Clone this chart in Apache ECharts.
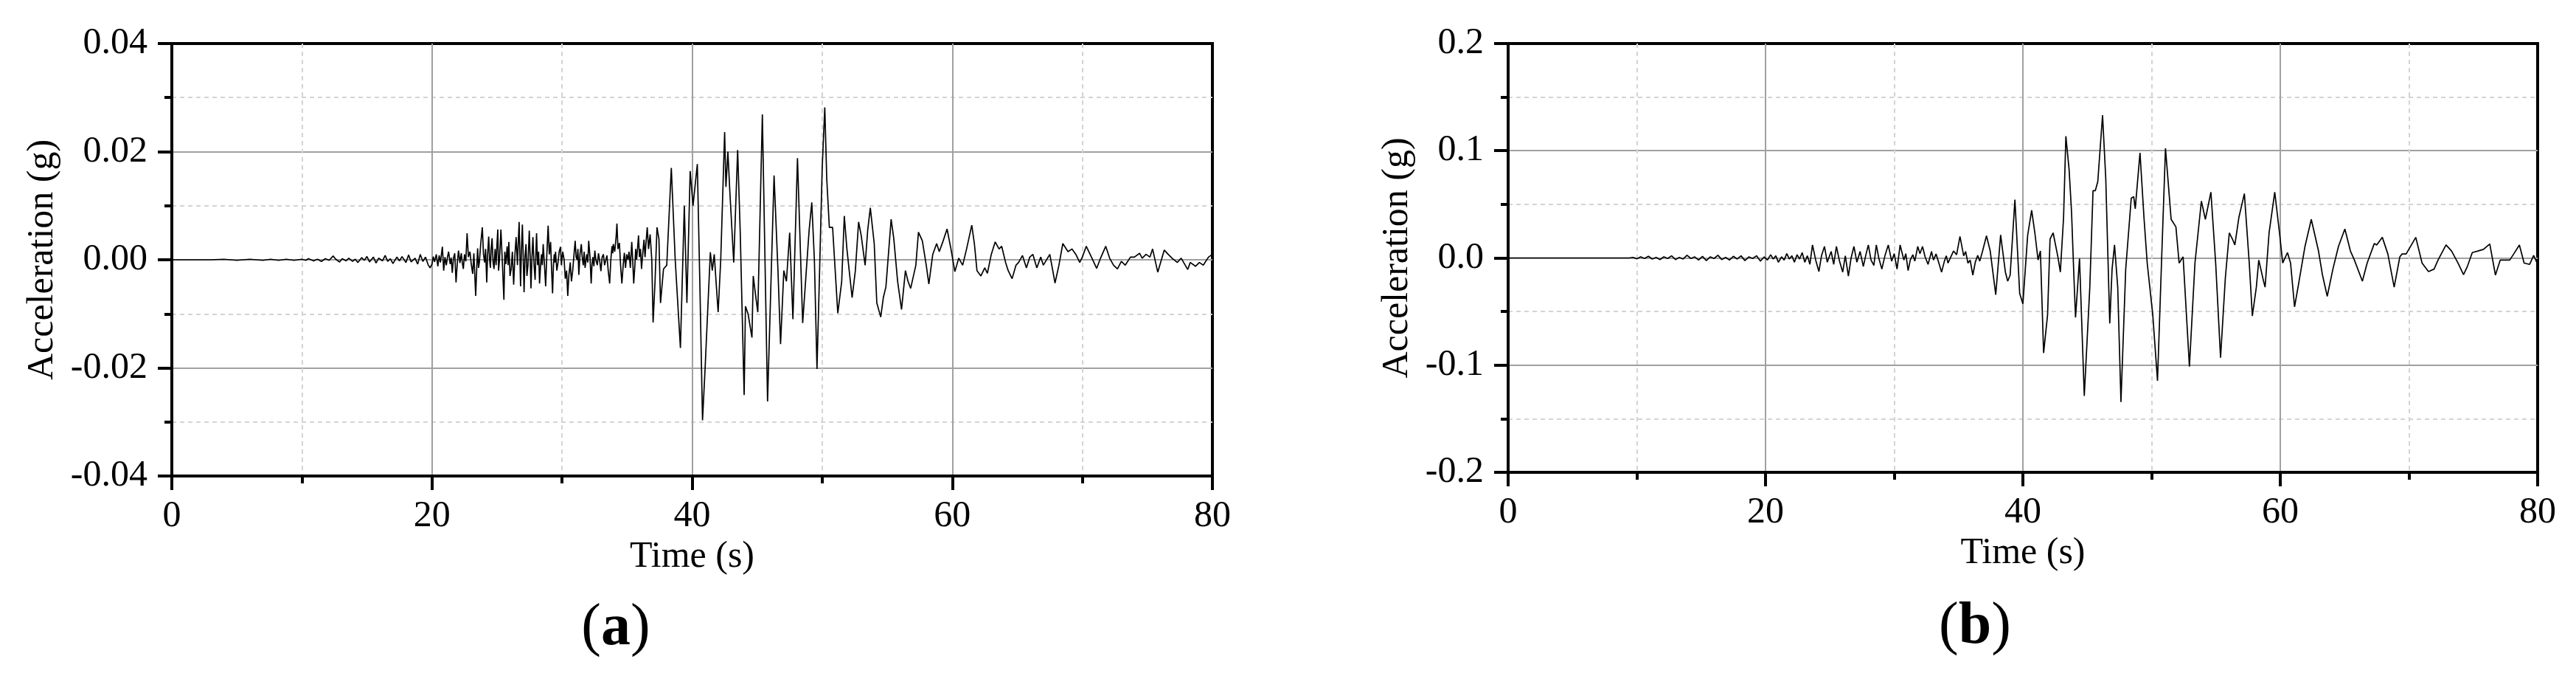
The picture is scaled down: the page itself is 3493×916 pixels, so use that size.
<!DOCTYPE html>
<html>
<head>
<meta charset="utf-8">
<script src="https://cdn.jsdelivr.net/npm/echarts@6/dist/echarts.min.js"></script>
<style>
html,body{margin:0;padding:0;background:#fff;}
#chart{width:3493px;height:916px;}
</style>
</head>
<body>
<div id="chart"></div>
<script>
// ---------- data ----------
const xTicks = [0, 20, 40, 60, 80];
const yTicksA = [-0.04, -0.02, 0.00, 0.02, 0.04];
const yTicksB = [-0.2, -0.1, 0.0, 0.1, 0.2];
const panelLabels = ['a', 'b'];
const xName = 'Time (s)';
const yName = 'Acceleration (g)';

// Panel (a): [time (s), acceleration (g)]
const seriesA = [
[0,0],[3,0],[4,0.0001],[5,-0.0001],[6,0.0001],[7,-0.0001],[7.6,0.0001],[8.2,-0.0001],[8.8,0.0001],[9.4,-0.0001],
[10,0.0001],[10.3,-0.0001],[10.5,0.0002],[10.9,-0.0002],[11.2,0.0001],[11.5,-0.0003],[11.8,0.0002],[12.1,-0.0001],
[12.4,0.0007],[12.6,0.0001],[12.9,-0.0004],[13.1,0.0002],[13.4,-0.0002],[13.6,0.0003],[13.9,-0.0003],[14.1,0.0001],
[14.3,-0.0005],[14.6,0.0004],[14.8,-0.0001],[15.0,0.0006],[15.2,-0.0004],[15.5,0.0005],[15.7,-0.0006],[15.9,0.0003],
[16.2,-0.0002],[16.4,0.0008],[16.6,-0.0003],[16.8,0.0002],[17.0,-0.0007],[17.3,0.0005],[17.5,-0.0002],[17.7,0.0006],
[18.0,-0.0005],[18.2,0.0009],[18.4,-0.0004],[18.7,0.0003],[18.9,-0.0008],[19.1,0.0010],[19.3,-0.0003],[19.5,0.0005],
[19.7,-0.0009],[19.86,-0.0015],
[20.0,-0.0008],[20.1,0.0006],[20.2,-0.0004],[20.33,0.001],[20.45,-0.0012],[20.55,0.0008],[20.65,-0.0005],[20.8,0.0024],
[20.9,-0.002],[21.0,0.0005],[21.1,-0.001],[21.2,0.0006],[21.28,0.0015],[21.4,-0.0008],[21.48,0.0004],[21.56,-0.0024],
[21.65,0.0003],[21.75,0.0012],[21.85,-0.0042],[21.95,-0.0005],[22.04,0.0017],[22.15,-0.0006],[22.25,0.0012],[22.33,-0.0005],
[22.41,-0.0017],[22.5,0.001],[22.6,-0.0003],[22.7,0.0049],[22.8,0.0005],[22.92,0.0015],[23.02,-0.0008],[23.13,-0.0026],
[23.22,0.0012],[23.36,-0.0067],[23.45,-0.001],[23.51,0.0021],[23.58,-0.0015],[23.64,-0.0005],[23.75,0.003],[23.87,0.006],
[23.96,0.001],[24.05,-0.0005],[24.12,0.002],[24.21,-0.0042],[24.28,0.001],[24.36,0.0043],[24.43,0.0],[24.49,-0.0015],
[24.55,0.002],[24.62,0.004],[24.7,-0.0005],[24.77,-0.0017],[24.85,0.002],[24.93,-0.001],[25.0,0.003],[25.06,0.0056],
[25.12,-0.002],[25.19,0.0],[25.25,0.003],[25.3,0.0056],[25.42,-0.001],[25.53,-0.0074],[25.6,0.0015],[25.68,-0.0008],
[25.78,0.0025],[25.85,-0.001],[25.91,0.0033],[26.0,-0.003],[26.09,-0.0017],[26.18,0.0015],[26.28,-0.0046],[26.38,0.001],
[26.47,0.0042],[26.57,-0.001],[26.63,0.003],[26.7,0.007],[26.81,-0.0049],[26.88,0.002],[26.95,0.0065],[27.02,0.0],
[27.08,-0.006],[27.15,0.0005],[27.23,0.0029],[27.3,-0.003],[27.38,-0.001],[27.48,0.0054],[27.55,0.0005],[27.61,-0.0053],
[27.68,0.0],[27.76,0.0042],[27.85,-0.001],[27.93,-0.0037],[28.0,0.002],[28.04,0.0049],[28.12,-0.001],[28.2,0.0015],
[28.27,-0.0044],[28.35,-0.001],[28.42,0.001],[28.48,-0.001],[28.55,0.0029],[28.65,-0.001],[28.74,-0.0049],[28.83,0.001],
[28.93,0.0063],[29.02,0.001],[29.12,0.0033],[29.2,-0.002],[29.27,-0.0062],[29.34,-0.001],[29.4,0.001],[29.45,-0.0005],
[29.5,0.0015],[29.6,-0.002],[29.69,-0.0005],[29.78,0.0015],[29.88,0.0024],[29.95,-0.001],[30.05,0.0015],[30.16,0.0],
[30.25,-0.0035],[30.35,-0.002],[30.44,-0.0067],[30.52,-0.003],[30.63,-0.0005],[30.72,-0.004],[30.82,-0.002],[30.92,0.001],
[31.01,0.0035],[31.08,0.0005],[31.16,0.0],[31.22,0.002],[31.29,-0.0028],[31.38,0.001],[31.48,0.0029],[31.55,0.0005],
[31.63,-0.001],[31.7,0.0015],[31.77,-0.0015],[31.9,0.001],[31.98,-0.0005],[32.05,0.0035],[32.15,0.0005],[32.24,-0.0044],
[32.3,-0.001],[32.37,0.0005],[32.45,-0.0012],[32.52,0.0017],[32.6,0.0],[32.71,-0.001],[32.8,0.0012],[32.9,-0.0003],
[32.99,-0.0021],[33.08,0.0005],[33.18,0.001],[33.27,-0.001],[33.37,-0.0012],[33.45,0.0008],[33.55,-0.002],[33.66,-0.0044],
[33.75,0.0],[33.84,0.0025],[33.9,0.0012],[33.94,0.0029],[34.05,0.0015],[34.15,0.004],[34.22,0.0067],[34.3,0.002],
[34.41,0.0031],[34.5,-0.001],[34.6,-0.0044],[34.7,-0.001],[34.79,0.0013],[34.88,-0.0015],[34.97,0.001],[35.07,0.0],
[35.15,0.0015],[35.25,-0.0015],[35.36,0.0033],[35.43,0.0],[35.51,-0.0044],[35.6,-0.001],[35.66,0.002],[35.73,0.0],
[35.8,0.002],[35.88,0.0045],[35.95,0.0005],[36.03,0.002],[36.11,-0.0017],[36.2,0.001],[36.3,0.0037],[36.38,0.0005],
[36.45,0.003],[36.55,0.006],[36.65,0.002],[36.77,0.0047],[36.9,0.0],[37.0,-0.0116],
[37.15,-0.004],[37.3,0.006],[37.45,0.0038],[37.57,-0.008],[37.8,-0.0017],[38.05,-0.001],[38.4,0.017],[38.7,0.0],
[39.1,-0.0163],[39.4,0.010],[39.6,-0.008],[39.85,0.0164],[40.07,0.010],[40.4,0.0177],[40.6,-0.005],[40.8,-0.0297],
[41.0,-0.020],[41.4,0.0014],[41.55,-0.002],[41.7,0.001],[42.0,-0.0097],[42.2,0.0],[42.5,0.0236],[42.6,0.0135],
[42.75,0.020],[42.9,0.0126],[43.2,-0.0005],[43.5,0.0203],[43.7,0.005],[44.0,-0.025],[44.1,-0.0086],[44.3,-0.010],
[44.6,-0.0144],[44.7,-0.003],[44.85,-0.006],[45.05,-0.0097],[45.4,0.0269],[45.8,-0.0262],[46.1,-0.001],[46.3,0.0156],
[46.6,-0.002],[46.8,-0.0156],[47.05,-0.002],[47.25,-0.004],[47.5,0.005],[47.75,-0.011],[48.1,0.0188],[48.5,-0.0117],
[48.75,-0.003],[49.0,0.0056],[49.2,0.0106],[49.4,0.0],[49.6,-0.0202],[49.8,-0.002],[50.0,0.017],[50.2,0.0282],
[50.35,0.015],[50.55,0.006],[50.8,0.006],[51.0,-0.002],[51.2,-0.0099],[51.5,-0.004],[51.7,0.0081],[51.9,0.002],
[52.1,-0.0025],[52.3,-0.007],[52.55,-0.002],[52.8,0.007],[53.0,0.0045],[53.3,-0.001],[53.5,0.0055],[53.7,0.0096],
[54.0,0.003],[54.2,-0.008],[54.5,-0.0106],[54.7,-0.007],[54.9,-0.005],[55.3,0.0075],[55.5,0.004],[55.8,-0.004],
[56.1,-0.0092],[56.4,-0.002],[56.6,-0.004],[56.8,-0.0053],[57.2,-0.001],[57.4,0.0051],[57.7,0.0035],[58.0,-0.001],
[58.2,-0.0045],[58.5,0.001],[58.8,0.003],[59.0,0.0015],[59.3,0.0035],[59.6,0.0057],[59.9,0.002],[60.2,-0.0022],
[60.5,0.0003],[60.8,-0.001],[61.1,0.002],[61.5,0.0064],[61.7,0.003],[61.9,-0.002],[62.2,-0.003],[62.5,-0.0015],
[62.7,-0.0025],[63.0,0.001],[63.3,0.0033],[63.6,0.002],[63.8,0.0025],[64.1,-0.0005],[64.3,-0.002],[64.6,-0.0035],
[64.9,-0.001],[65.1,-0.0005],[65.4,0.0008],[65.7,-0.0015],[65.96,0.0005],[66.2,0.001],[66.5,-0.0015],[66.8,0.0005],
[67.0,-0.001],[67.5,0.001],[67.9,-0.0043],[68.2,-0.001],[68.5,0.003],[68.9,0.0015],[69.2,0.002],[69.5,0.001],
[69.8,-0.0005],[70.0,0.0005],[70.3,0.0025],[70.7,0.0005],[71.1,-0.0016],[71.4,0.0003],[71.8,0.0025],[72.1,0.0003],
[72.4,-0.001],[72.7,-0.0017],[73.0,-0.0003],[73.3,-0.001],[73.7,0.0005],[74.0,0.0005],[74.4,0.0012],[74.6,0.0003],
[74.9,0.001],[75.2,0.0005],[75.4,0.002],[75.8,-0.0023],[76.3,0.0018],[76.6,0.001],[76.9,0.0003],[77.3,-0.0005],
[77.6,0.0003],[78.1,-0.0018],[78.3,-0.0005],[78.7,-0.0012],[79.0,-0.0005],[79.3,-0.001],[79.7,0.0005],[80,0.001]
];

// Panel (b): [time (s), acceleration (g)]
const seriesB = [
[0,0],[9.4,0],[9.7,0.0005],[10.0,-0.0008],[10.3,0.001],[10.6,-0.0005],[10.9,0.0015],[11.2,-0.001],[11.5,0.0005],
[11.8,-0.0015],[12.1,0.001],[12.4,-0.0005],[12.7,0.002],[13.0,-0.0015],[13.3,0.0005],[13.6,-0.001],[13.9,0.0025],
[14.2,-0.0005],[14.5,0.001],[14.8,-0.002],[15.1,0.0015],[15.4,-0.0025],[15.7,0.001],[16.0,-0.0005],[16.3,0.0025],
[16.6,-0.0015],[16.9,0.0005],[17.2,-0.002],[17.5,0.0015],[17.8,-0.001],[18.1,0.002],[18.4,-0.0025],[18.7,0.001],
[19.0,-0.0005],[19.3,0.002],[19.6,-0.003],[19.9,0.001],[20.15,-0.002],[20.4,0.003],[20.6,-0.001],[20.8,0.002],
[21.0,-0.004],[21.25,0.001],[21.45,-0.002],[21.65,0.004],[21.85,-0.001],[22.05,0.002],[22.25,-0.004],[22.45,0.003],
[22.65,-0.001],[22.85,0.005],[23.05,-0.004],[23.25,0.002],[23.45,-0.006],[23.65,0.0121],[23.9,-0.002],[24.15,-0.0127],
[24.35,0.002],[24.58,0.0107],[24.8,-0.004],[25.1,0.006],[25.3,-0.006],[25.51,0.0107],[25.75,-0.003],[26.0,-0.0132],
[26.2,0.002],[26.44,-0.0169],[26.65,0.0],[26.87,0.0107],[27.1,-0.004],[27.35,0.006],[27.6,-0.008],[27.8,0.003],
[27.99,0.0121],[28.2,-0.002],[28.42,-0.007],[28.61,0.0121],[28.8,0.0],[29.04,-0.0104],[29.3,0.003],[29.54,0.0121],
[29.8,-0.003],[30.0,0.004],[30.22,-0.0104],[30.46,0.0121],[30.75,-0.002],[30.9,0.004],[31.08,-0.0118],[31.25,-0.002],
[31.45,0.003],[31.6,-0.003],[31.83,0.0107],[32.0,0.004],[32.2,0.0107],[32.4,0.001],[32.63,-0.006],[32.9,0.006],
[33.05,-0.002],[33.25,0.0037],[33.45,-0.004],[33.68,-0.0132],[33.9,-0.003],[34.05,0.002],[34.18,-0.0048],[34.4,0.001],
[34.61,0.0065],[34.85,0.003],[35.11,0.02],[35.4,0.002],[35.55,0.006],[35.73,-0.0048],[35.9,-0.002],[36.11,-0.016],
[36.3,-0.004],[36.49,0.0023],[36.65,-0.003],[36.87,0.0065],[37.17,0.0206],[37.46,0.0065],[37.89,-0.0344],[38.27,0.0214],
[38.64,-0.0132],[38.82,-0.0217],[39.01,-0.016],[39.38,0.0544],[39.75,-0.033],[40.0,-0.0428],[40.37,0.0211],[40.68,0.0445],
[40.93,0.0234],[41.18,-0.002],[41.36,0.0065],[41.61,-0.0887],[41.92,-0.0527],[42.11,0.0177],[42.35,0.0234],[42.72,0.001],
[42.91,-0.0132],[43.16,0.0375],[43.34,0.1135],[43.59,0.0825],[43.78,0.043],[43.96,-0.016],[44.09,-0.0555],[44.4,-0.0006],
[44.77,-0.1287],[45.2,-0.0273],[45.45,0.0628],[45.63,0.0628],[45.82,0.0713],[46.19,0.1332],[46.44,0.074],[46.75,-0.0611],
[46.93,-0.0104],[47.12,0.0121],[47.37,-0.0273],[47.62,-0.1344],[47.99,-0.0104],[48.42,0.0558],[48.61,0.0572],[48.73,0.0459],
[49.1,0.098],[49.41,0.0375],[49.66,-0.0048],[50.09,-0.0527],[50.46,-0.1146],[50.77,-0.0048],[51.08,0.1023],[51.52,0.036],
[51.89,0.029],[52.14,-0.0048],[52.45,0.001],[52.94,-0.1014],[53.37,-0.0048],[53.87,0.053],[54.18,0.036],[54.61,0.0614],
[54.98,-0.0048],[55.36,-0.093],[55.73,-0.0189],[56.04,0.0234],[56.28,0.0177],[56.47,0.0121],[56.78,0.0375],[57.21,0.06],
[57.59,-0.0048],[57.83,-0.0541],[58.14,-0.0273],[58.33,-0.002],[58.7,-0.0217],[58.82,-0.0273],[59.13,0.0234],[59.57,0.0614],
[59.94,0.0234],[60.19,-0.0048],[60.56,0.005],[60.8,-0.0048],[61.11,-0.0456],[61.42,-0.0245],[61.92,0.0107],[62.41,0.036],
[62.97,0.0065],[63.28,-0.016],[63.65,-0.0358],[64.09,-0.0104],[64.52,0.0107],[65.02,0.027],[65.45,0.0065],[65.76,-0.002],
[66.38,-0.0217],[66.75,-0.0048],[67.31,0.0135],[67.49,0.0121],[67.93,0.0192],[68.36,0.0037],[68.85,-0.0273],[69.29,0.001],
[69.47,0.0037],[69.78,0.0037],[70.53,0.0192],[71.02,-0.0048],[71.52,-0.0127],[71.95,-0.0104],[72.26,-0.002],[72.88,0.0121],
[73.31,0.0065],[73.81,-0.0048],[74.24,-0.0155],[74.55,-0.0076],[74.92,0.005],[75.36,0.0065],[75.79,0.008],[76.28,0.013],
[76.72,-0.016],[77.09,-0.002],[77.4,-0.002],[77.83,-0.002],[78.14,0.0037],[78.58,0.012],[78.95,-0.0048],[79.38,-0.006],
[79.69,0.0023],[80,-0.006]
];

// ---------- chart ----------
const FONT = '"Liberation Serif", "Times New Roman", serif';
const chart = echarts.init(document.getElementById('chart'), null, {renderer: 'canvas'});

function xAxisCfg(gridIndex) {
  return {
    type: 'value', gridIndex: gridIndex,
    min: xTicks[0], max: xTicks[xTicks.length - 1], interval: xTicks[1] - xTicks[0],
    name: xName, nameLocation: 'middle', nameGap: 80,
    nameTextStyle: {fontFamily: FONT, fontSize: 50, color: '#000'},
    axisLine: {show: true, onZero: false, lineStyle: {color: '#000', width: 4}},
    axisTick: {show: true, length: 19, lineStyle: {color: '#000', width: 4}},
    minorTick: {show: true, splitNumber: 2, length: 10, lineStyle: {color: '#000', width: 4}},
    splitLine: {show: true, showMinLine: false, showMaxLine: false, lineStyle: {color: '#a0a0a0', width: 2}},
    minorSplitLine: {show: true, lineStyle: {color: '#d4d4d4', width: 2, type: [6, 5]}},
    axisLabel: {fontFamily: FONT, fontSize: 50, color: '#000', margin: 30}
  };
}
function yAxisCfg(gridIndex, ticks, decimals, nameGap) {
  return {
    type: 'value', gridIndex: gridIndex,
    min: ticks[0], max: ticks[ticks.length - 1], interval: ticks[1] - ticks[0],
    name: yName, nameLocation: 'middle', nameGap: nameGap, nameRotate: 90,
    nameTextStyle: {fontFamily: FONT, fontSize: 50, color: '#000'},
    axisLine: {show: true, onZero: false, lineStyle: {color: '#000', width: 4}},
    axisTick: {show: true, length: 19, lineStyle: {color: '#000', width: 4}},
    minorTick: {show: true, splitNumber: 2, length: 10, lineStyle: {color: '#000', width: 4}},
    splitLine: {show: true, showMinLine: false, showMaxLine: false, lineStyle: {color: '#a0a0a0', width: 2}},
    minorSplitLine: {show: true, lineStyle: {color: '#d4d4d4', width: 2, type: [6, 5]}},
    axisLabel: {fontFamily: FONT, fontSize: 50, color: '#000', margin: 33,
      formatter: function (v) { return (Math.abs(v) < 1e-9 ? 0 : v).toFixed(decimals); }}
  };
}

const option = {
  backgroundColor: '#fff',
  animation: false,
  grid: [
    {left: 233, top: 59, width: 1411, height: 586, show: true, borderColor: '#000', borderWidth: 4, backgroundColor: 'transparent'},
    {left: 2045, top: 59, width: 1396, height: 581, show: true, borderColor: '#000', borderWidth: 4, backgroundColor: 'transparent'}
  ],
  xAxis: [xAxisCfg(0), xAxisCfg(1)],
  yAxis: [yAxisCfg(0, yTicksA, 2, 150), yAxisCfg(1, yTicksB, 1, 125)],
  series: [
    {type: 'line', xAxisIndex: 0, yAxisIndex: 0, data: seriesA, showSymbol: false, silent: true,
     lineStyle: {color: '#000', width: 1.7}},
    {type: 'line', xAxisIndex: 1, yAxisIndex: 1, data: seriesB, showSymbol: false, silent: true,
     lineStyle: {color: '#000', width: 1.7}}
  ],
  graphic: [
    {type: 'text', x: 835, y: 852, style: {text: '{p|(}{b|' + panelLabels[0] + '}{p|)}', align: 'center', verticalAlign: 'middle',
      rich: {p: {fontFamily: FONT, fontSize: 80, fill: '#000'}, b: {fontFamily: FONT, fontSize: 80, fontWeight: 'bold', fill: '#000'}}}},
    {type: 'text', x: 2678, y: 850, style: {text: '{p|(}{b|' + panelLabels[1] + '}{p|)}', align: 'center', verticalAlign: 'middle',
      rich: {p: {fontFamily: FONT, fontSize: 80, fill: '#000'}, b: {fontFamily: FONT, fontSize: 80, fontWeight: 'bold', fill: '#000'}}}}
  ]
};
chart.setOption(option);
</script>
</body>
</html>
